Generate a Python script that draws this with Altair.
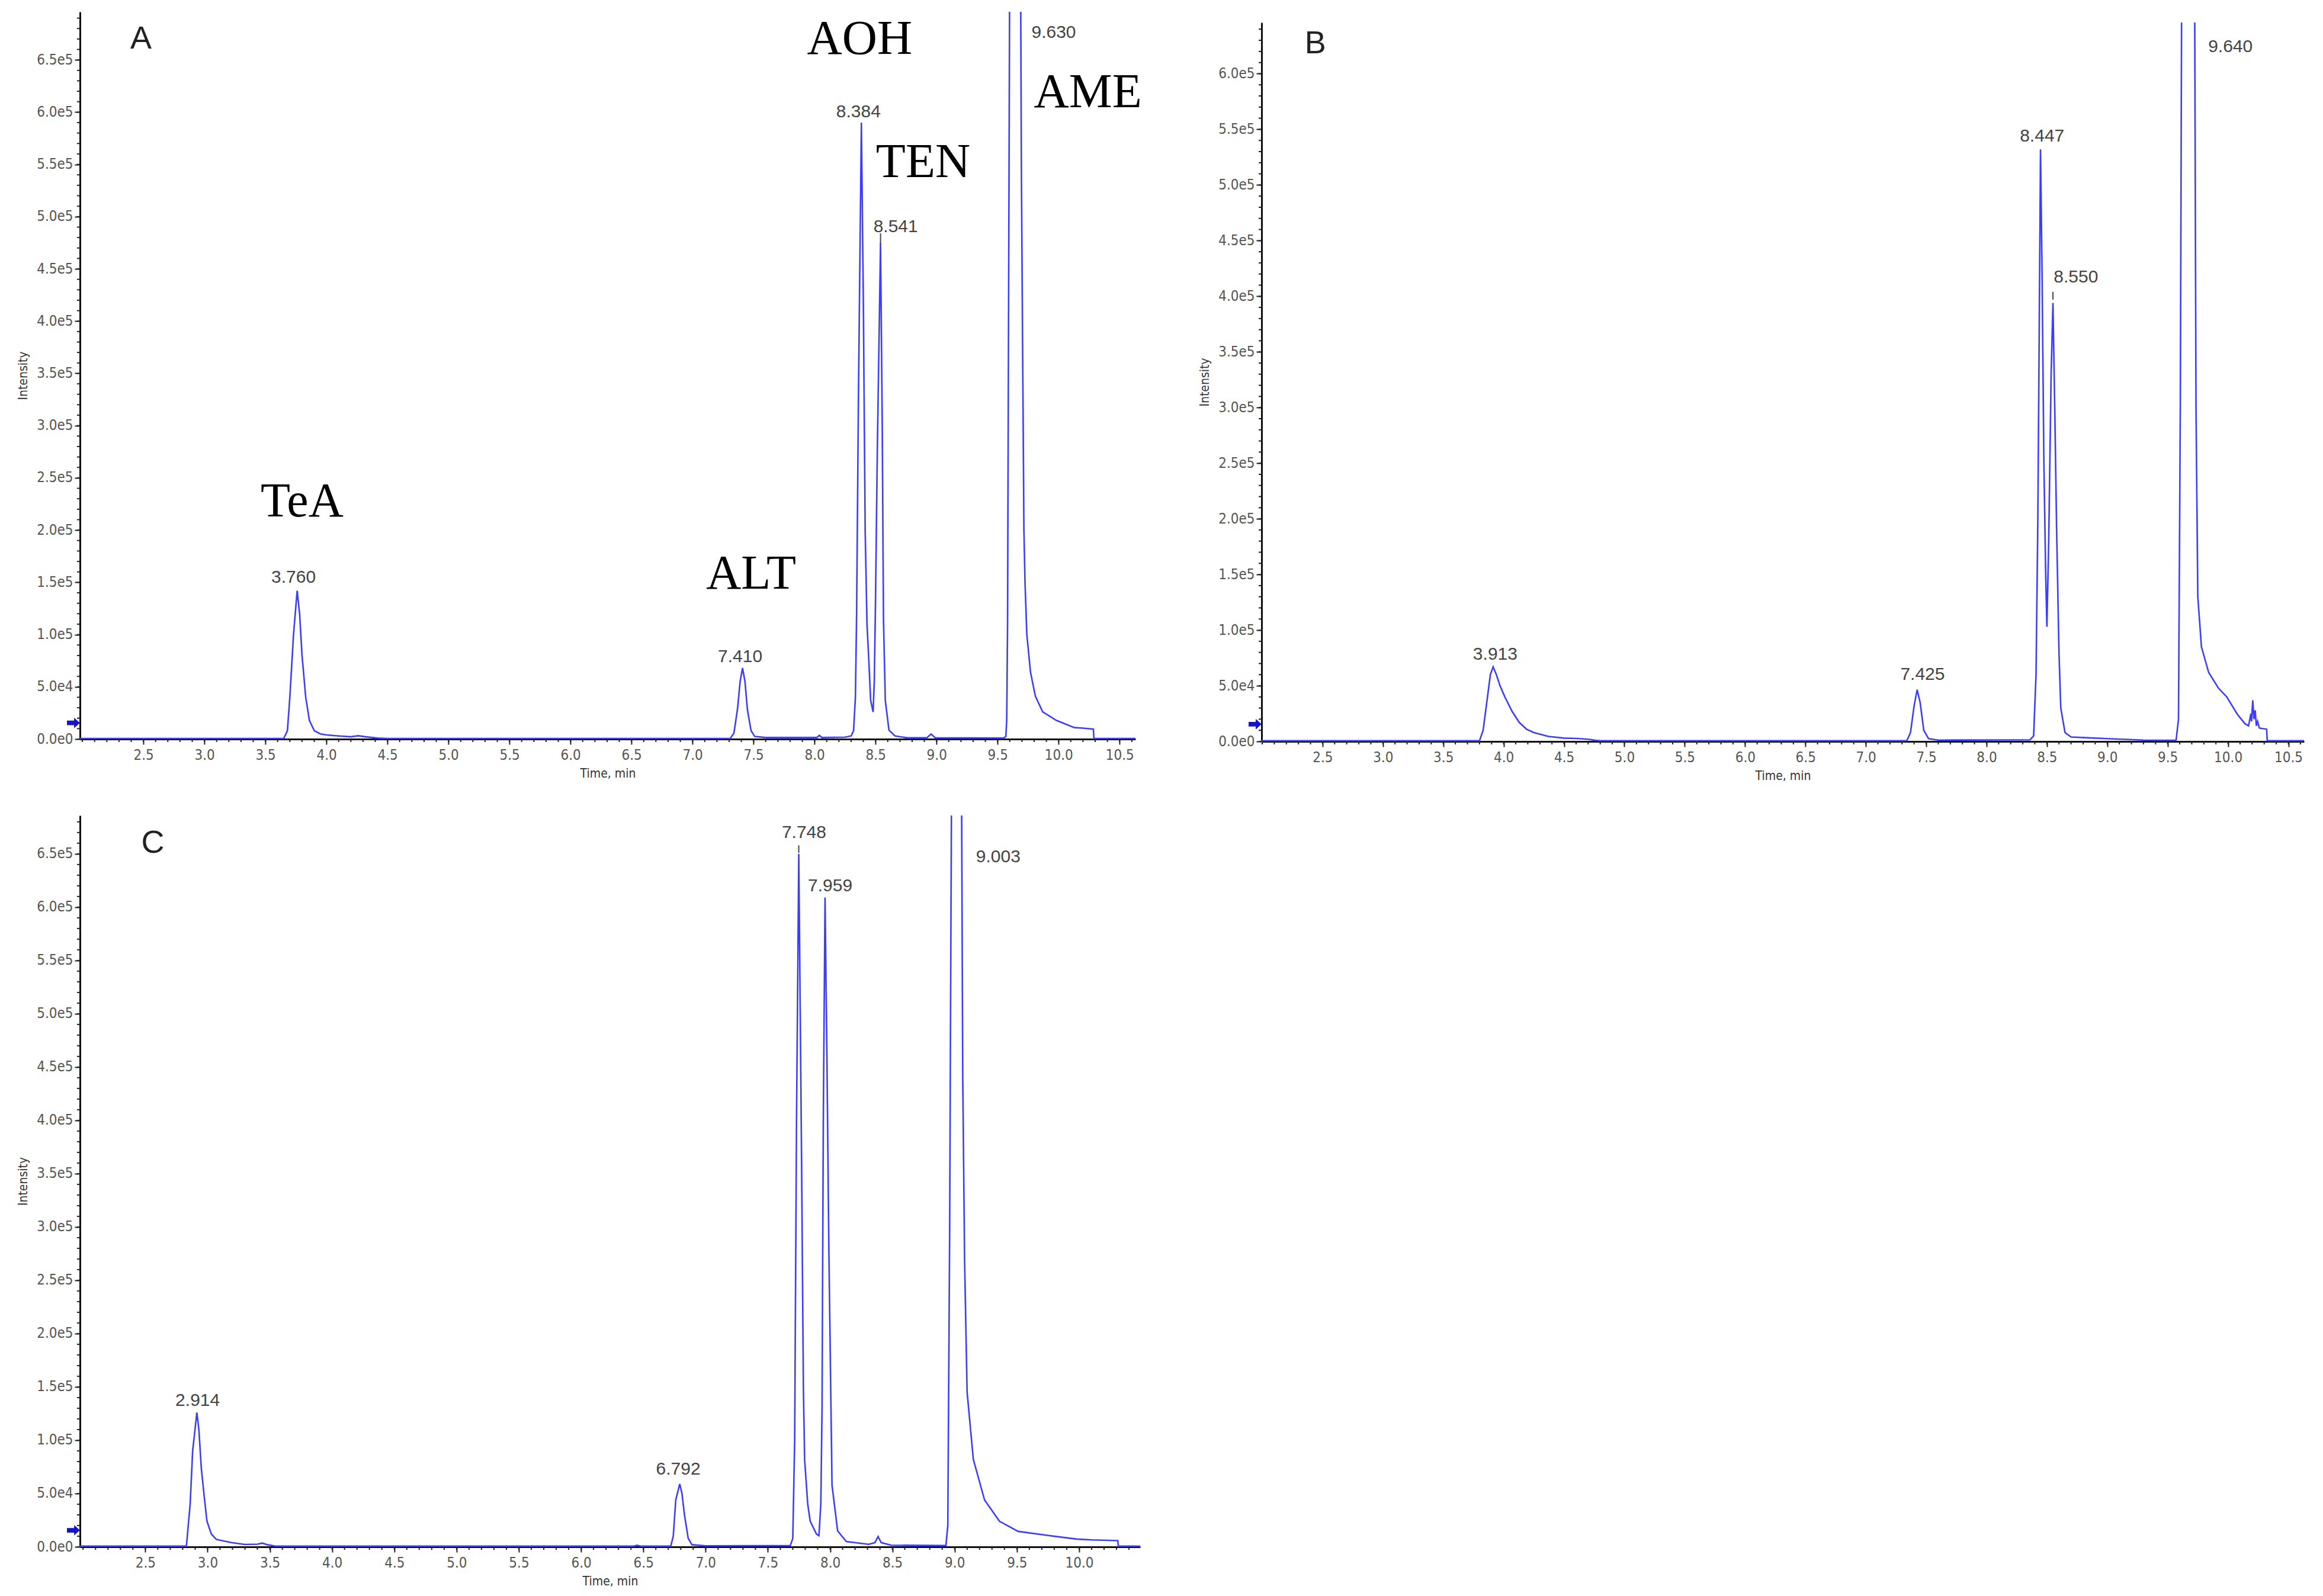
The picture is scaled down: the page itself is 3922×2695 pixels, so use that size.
import altair as alt
import pandas as pd

# ---------------- Panel A ----------------
a_time = [1.98, 3.65, 3.68, 3.70, 3.73, 3.76, 3.78, 3.80, 3.83, 3.86, 3.90, 3.95, 4.00, 4.10, 4.20, 4.26, 4.32, 4.42, 4.50,
          7.31, 7.34, 7.37, 7.39, 7.41, 7.43, 7.45, 7.48, 7.51, 7.60, 8.02, 8.04, 8.06, 8.25, 8.30, 8.32, 8.335, 8.345,
          8.36, 8.384, 8.40, 8.415, 8.43, 8.445, 8.46, 8.48, 8.49, 8.50, 8.515, 8.541, 8.555, 8.565, 8.58, 8.61, 8.66,
          8.76, 8.92, 8.955, 8.99, 9.55, 9.568, 9.575, 9.582, 9.60, 9.64, 9.688, 9.695, 9.705, 9.716, 9.725, 9.74, 9.77,
          9.81, 9.87, 9.98, 10.13, 10.20, 10.285, 10.29, 10.63]
a_int = [600, 600, 8000, 40000, 100000, 142000, 120000, 80000, 40000, 18000, 8000, 5000, 4000, 3000, 2200, 3200, 2200, 900, 600,
         600, 6000, 30000, 55000, 68000, 55000, 28000, 8000, 2500, 1500, 1500, 3500, 1500, 1800, 3000, 8000, 40000, 120000,
         330000, 590000, 420000, 200000, 110000, 75000, 37000, 26000, 56000, 134000, 280000, 475000, 300000, 115000, 37000, 8600, 3000,
         1200, 1200, 4800, 1200, 1000, 2500, 18000, 110000, 760000, 1200000, 760000, 550000, 380000, 200000, 150000, 100000, 64000,
         41000, 26000, 18000, 11000, 10500, 9500, 600, 600]
a_peak_text = ["3.760", "7.410", "8.384", "8.541", "9.630"]
a_peak_t = [3.73, 7.39, 8.36, 8.665, 9.96]
a_peak_i = [154500, 79000, 600000, 490000, 676000]
a_comp_text = ["TeA", "ALT", "AOH", "TEN", "AME"]
a_comp_t = [3.80, 7.48, 8.37, 8.89, 10.24]
a_comp_i = [227000, 158000, 670000, 552000, 619000]
a_tick_t = [8.541]
a_tick_i = [474000]
a_tick_i2 = [484000]

# ---------------- Panel B ----------------
b_time = [1.995, 3.80, 3.83, 3.86, 3.89, 3.913, 3.94, 3.97, 4.01, 4.07, 4.13, 4.19, 4.25, 4.37, 4.50, 4.61, 4.70, 4.76, 4.80,
          7.34, 7.37, 7.40, 7.425, 7.45, 7.48, 7.52, 7.60, 8.36, 8.39, 8.41, 8.425, 8.435, 8.447, 8.46, 8.475, 8.49, 8.50,
          8.515, 8.535, 8.55, 8.565, 8.58, 8.60, 8.615, 8.65, 8.70, 8.90, 9.00, 9.30, 9.57, 9.59, 9.605, 9.62, 9.66, 9.72,
          9.735, 9.75, 9.78, 9.84, 9.92, 9.99, 10.08, 10.14, 10.17, 10.19, 10.195, 10.205, 10.215, 10.225, 10.235, 10.245,
          10.26, 10.32, 10.325, 10.63]
b_int = [600, 600, 10000, 35000, 60000, 67000, 60000, 50000, 40000, 27000, 17000, 11000, 8000, 4500, 3000, 2700, 2000, 1000, 600,
         600, 8000, 32000, 46500, 35000, 10000, 2500, 1200, 1500, 5000, 60000, 200000, 350000, 532000, 420000, 250000, 150000, 103000,
         180000, 330000, 394000, 300000, 193000, 80000, 30000, 8000, 4000, 3000, 2500, 1200, 1000, 20000, 300000, 800000, 1200000, 800000,
         300000, 130000, 85000, 62000, 48000, 40000, 24000, 16000, 14000, 25000, 18000, 37000, 20000, 28000, 14000, 18000,
         12000, 11000, 600, 600]
b_peak_text = ["3.913", "7.425", "8.447", "8.550", "9.640"]
b_peak_t = [3.93, 7.47, 8.46, 8.74, 10.02]
b_peak_i = [78000, 60000, 544000, 417000, 624000]
b_tick_t = [8.55]
b_tick_i = [397000]
b_tick_i2 = [404000]

# ---------------- Panel C ----------------
c_time = [1.975, 2.83, 2.86, 2.88, 2.914, 2.93, 2.95, 2.975, 2.995, 3.03, 3.07, 3.19, 3.30, 3.40, 3.44, 3.48, 3.55,
          6.42, 6.45, 6.48, 6.72, 6.74, 6.76, 6.792, 6.81, 6.83, 6.86, 6.89, 7.00, 7.68, 7.70, 7.715, 7.73, 7.748, 7.77,
          7.785, 7.795, 7.82, 7.84, 7.89, 7.91, 7.925, 7.935, 7.945, 7.959, 7.975, 7.99, 8.015, 8.06, 8.13, 8.31, 8.36,
          8.385, 8.41, 8.49, 8.93, 8.945, 8.96, 8.975, 9.01, 9.055, 9.065, 9.08, 9.10, 9.15, 9.24, 9.36, 9.51, 9.75, 9.98,
          10.10, 10.31, 10.315, 10.49]
c_int = [600, 600, 40000, 90000, 126000, 110000, 73000, 45000, 24000, 12000, 7000, 4000, 2200, 2500, 3500, 2000, 600,
         600, 1500, 600, 600, 10000, 44000, 59000, 50000, 30000, 8000, 2000, 1000, 1200, 8000, 100000, 400000, 650000, 370000,
         150000, 82000, 40000, 24000, 12000, 10500, 40000, 130000, 400000, 609000, 450000, 276000, 58000, 15000, 5000, 2400, 4000,
         9700, 4000, 1500, 1200, 20000, 300000, 720000, 1200000, 720000, 440000, 267000, 145000, 82000, 44000, 24000, 14500, 10700, 7300,
         6500, 5800, 600, 600]
c_peak_text = ["2.914", "6.792", "7.748", "7.959", "9.003"]
c_peak_t = [2.92, 6.78, 7.79, 8.00, 9.35]
c_peak_i = [137000, 73000, 670000, 620000, 647000]
c_tick_t = [7.748]
c_tick_i = [651000]
c_tick_i2 = [658000]

# axis tick positions (labelled)
x_labels_ab = [2.5, 3.0, 3.5, 4.0, 4.5, 5.0, 5.5, 6.0, 6.5, 7.0, 7.5, 8.0, 8.5, 9.0, 9.5, 10.0, 10.5]
x_labels_c = [2.5, 3.0, 3.5, 4.0, 4.5, 5.0, 5.5, 6.0, 6.5, 7.0, 7.5, 8.0, 8.5, 9.0, 9.5, 10.0]

LINE = "#3d3dff"
TICK_FONT = "Liberation Sans Narrow, DejaVu Sans Condensed, Liberation Sans, sans-serif"
SANS = "Liberation Sans, Arial, sans-serif"
SERIF = "Liberation Serif, Times New Roman, serif"
ARROW = "M-1,-0.35 L0.1,-0.35 L0.1,-0.8 L1,0 L0.1,0.8 L0.1,0.35 L-1,0.35 Z"


def panel(time, inten, xdom, ydom, xlabels, ylabel_max, peaks, comps, letter, tick, width, height):
    df = pd.DataFrame({"t": time, "i": inten})
    xs = alt.Scale(domain=xdom, nice=False, zero=False)
    ys = alt.Scale(domain=ydom, nice=False, zero=False)
    ylabels = [k * 50000 for k in range(0, 20) if k * 50000 <= ylabel_max]
    xminor = [round(0.1 * k, 1) for k in range(0, 120) if xdom[0] - 1e-9 <= 0.1 * k <= xdom[1] + 1e-9]
    yminor = [k * 10000 for k in range(0, 80) if k * 10000 <= ydom[1]]

    line = alt.Chart(df).mark_line(color=LINE, strokeWidth=2.6, clip=True).encode(
        x=alt.X("t:Q", scale=xs, axis=alt.Axis(
            values=xlabels, format=".1f", labelOverlap=False, labelFlush=False, title="Time, min", grid=False,
            tickSize=9, tickWidth=2, tickColor="#222", domainColor="#111", domainWidth=3,
            labelFont=TICK_FONT, labelFontSize=24, labelColor="#555", labelPadding=6,
            titleFont=TICK_FONT, titleFontSize=21, titleFontWeight="normal", titleColor="#333", titlePadding=8)),
        y=alt.Y("i:Q", scale=ys, axis=alt.Axis(
            values=ylabels, labelExpr="replace(format(datum.value, '.1e'), '+', '')",
            labelOverlap=False, labelFlush=False, title="Intensity", grid=False,
            tickSize=9, tickWidth=2, tickColor="#222", domainColor="#111", domainWidth=3,
            labelFont=TICK_FONT, labelFontSize=24, labelColor="#555", labelPadding=3,
            titleFont=TICK_FONT, titleFontSize=21, titleFontWeight="normal", titleColor="#333", titlePadding=12)),
    )

    # minor ticks along the axes
    xminor_layer = alt.Chart(pd.DataFrame({"t": xminor})).mark_rule(color="#222", strokeWidth=2).encode(
        x=alt.X("t:Q", scale=xs), y=alt.value(height), y2=alt.value(height + 5))
    yminor_layer = alt.Chart(pd.DataFrame({"i": yminor})).mark_rule(color="#222", strokeWidth=2).encode(
        y=alt.Y("i:Q", scale=ys), x=alt.value(0), x2=alt.value(-5))

    ptxt, pt, pi = peaks
    pdf = pd.DataFrame({"label": ptxt, "t": pt, "i": pi})
    peak_layer = alt.Chart(pdf).mark_text(font=SANS, fontSize=30, color="#444", align="center", baseline="middle").encode(
        x=alt.X("t:Q", scale=xs), y=alt.Y("i:Q", scale=ys), text="label:N")

    tt, ti, ti2 = tick
    tdf = pd.DataFrame({"t": tt, "i": ti, "i2": ti2})
    tick_layer = alt.Chart(tdf).mark_rule(color="#444", strokeWidth=2).encode(
        x=alt.X("t:Q", scale=xs), y=alt.Y("i:Q", scale=ys), y2="i2:Q")

    ltxt, lt, li = letter
    ldf = pd.DataFrame({"label": [ltxt], "t": [lt], "i": [li]})
    letter_layer = alt.Chart(ldf).mark_text(font=SANS, fontSize=54, color="#222", align="center", baseline="middle").encode(
        x=alt.X("t:Q", scale=xs), y=alt.Y("i:Q", scale=ys), text="label:N")

    arrow = alt.Chart(pd.DataFrame({"t": [xdom[0]], "i": [15500]})).mark_point(
        shape=ARROW, filled=True, size=480, color="#1212d0", opacity=1, xOffset=-11).encode(
        x=alt.X("t:Q", scale=xs), y=alt.Y("i:Q", scale=ys))

    layers = [line, xminor_layer, yminor_layer, peak_layer, tick_layer, letter_layer, arrow]
    if comps is not None:
        ctxt, ct, ci = comps
        cdf = pd.DataFrame({"label": ctxt, "t": ct, "i": ci})
        layers.append(alt.Chart(cdf).mark_text(font=SERIF, fontSize=82, color="#000", align="center", baseline="middle").encode(
            x=alt.X("t:Q", scale=xs), y=alt.Y("i:Q", scale=ys), text="label:N"))

    return alt.layer(*layers).properties(width=width, height=height)


A = panel(a_time, a_int, [1.98, 10.63], [0, 696000], x_labels_ab, 650000,
          (a_peak_text, a_peak_t, a_peak_i), (a_comp_text, a_comp_t, a_comp_i),
          ("A", 2.48, 670000), (a_tick_t, a_tick_i, a_tick_i2), 1782, 1228)
B = panel(b_time, b_int, [1.995, 10.63], [0, 646000], x_labels_ab, 600000,
          (b_peak_text, b_peak_t, b_peak_i), None,
          ("B", 2.44, 627000), (b_tick_t, b_tick_i, b_tick_i2), 1760, 1214)
C = panel(c_time, c_int, [1.975, 10.49], [0, 686000], x_labels_c, 650000,
          (c_peak_text, c_peak_t, c_peak_i), None,
          ("C", 2.56, 660000), (c_tick_t, c_tick_i, c_tick_i2), 1790, 1235)

# invisible spacer that lowers panel B slightly, as in the reference
spacer = alt.Chart(pd.DataFrame({"s": [0]})).mark_point(opacity=0).encode(
    x=alt.X("s:Q", axis=None), y=alt.Y("s:Q", axis=None)).properties(width=10, height=18)
B_col = alt.vconcat(spacer, B, spacing=0)

chart = alt.vconcat(alt.hconcat(A, B_col, spacing=95), C, spacing=57).properties(
    padding={"left": 20, "top": 12, "right": 5, "bottom": 5}, background="white"
).configure_view(stroke=None)

chart.save("out.html", embed_options={"renderer": "svg", "actions": False})
